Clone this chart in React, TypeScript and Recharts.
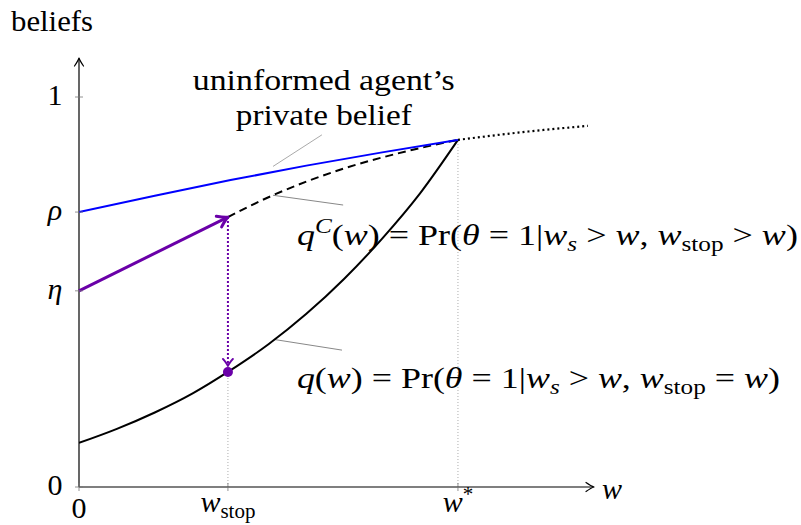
import React from "react";
import { ComposedChart, Line, XAxis, YAxis, ReferenceLine, ReferenceDot } from "recharts";

// key points on the w axis and on the belief axis
const W_STOP = 0.393;
const W_STAR = 1;
const RHO = 0.705;
const ETA = 0.503;
const Q_AT_STOP = 0.295;
const QC_AT_STOP = 0.692;
const Q_AT_STAR = 0.89;

const X_MAX = 1.359;
const Y_MAX = 1.1;

// q(w): belief when the stop happens exactly at w
const qW = [0, 0.1, 0.2, 0.3, 0.393, 0.5, 0.6, 0.7, 0.8, 0.9, 1];
const qBelief = [0.113, 0.149, 0.191, 0.24, 0.295, 0.366, 0.444, 0.534, 0.637, 0.753, 0.89];

// q^C(w): belief while no stop has happened yet
const qcW = [0.393, 0.5, 0.6, 0.7, 0.8, 0.9, 1];
const qcBelief = [0.692, 0.743, 0.783, 0.817, 0.845, 0.869, 0.89];

// uninformed agent's private belief (solid up to w*, dotted after)
const privW = [0, 0.2, 0.4, 0.6, 0.8, 1];
const privBelief = [0.705, 0.747, 0.787, 0.824, 0.858, 0.89];
const privTailW = [1, 1.171, 1.343];
const privTailBelief = [0.89, 0.91, 0.926];

type Kind = "r" | "i" | "sub" | "subi" | "sup" | "supi";
type Piece = [string, Kind];

const xTicks = [0, W_STOP, W_STAR];
const xTickLabels: Piece[][] = [
  [["0", "r"]],
  [["w", "i"], ["stop", "sub"]],
  [["w", "i"], ["*", "sup"]],
];
const yTicks = [0, ETA, RHO, 1];
const yTickLabels: Piece[][] = [[["0", "r"]], [["η", "i"]], [["ρ", "i"]], [["1", "r"]]];

const qcLabel: Piece[] = [
  ["q", "i"], ["C", "supi"], ["(", "r"], ["w", "i"], [") = Pr(", "r"], ["θ", "i"], [" = 1|", "r"],
  ["w", "i"], ["s", "subi"], [" > ", "r"], ["w", "i"], [", ", "r"], ["w", "i"], ["stop", "sub"],
  [" > ", "r"], ["w", "i"], [")", "r"],
];
const qLabel: Piece[] = [
  ["q", "i"], ["(", "r"], ["w", "i"], [") = Pr(", "r"], ["θ", "i"], [" = 1|", "r"],
  ["w", "i"], ["s", "subi"], [" > ", "r"], ["w", "i"], [", ", "r"], ["w", "i"], ["stop", "sub"],
  [" = ", "r"], ["w", "i"], [")", "r"],
];

const rows = (xs: number[], ys: number[]) => xs.map((w, i) => ({ w, v: ys[i] }));

const FONT = "'Liberation Serif', 'Times New Roman', serif";
const FS = 30;
const PURPLE = "#6a00a8";

function MathText({ x, y, pieces, anchor = "middle", size = FS, length }: any) {
  let shift = 0;
  const spans = pieces.map(([t, k]: Piece, i: number) => {
    const small = k.startsWith("su");
    const target = k.startsWith("sub") ? size * 0.2 : k.startsWith("sup") ? -size * 0.38 : 0;
    const dy = target - shift;
    shift = target;
    return (
      <tspan
        key={i}
        dy={dy}
        fontStyle={k === "i" || k === "subi" || k === "supi" ? "italic" : "normal"}
        fontSize={small ? size * 0.7 : size}
      >
        {t}
      </tspan>
    );
  });
  return (
    <text
      x={x}
      y={y}
      textAnchor={anchor}
      fontFamily={FONT}
      fontSize={size}
      fill="#000"
      style={{ whiteSpace: "pre" }}
      textLength={length}
      lengthAdjust={length ? "spacingAndGlyphs" : undefined}
    >
      {spans}
    </text>
  );
}

const headPath = (len: number, half: number) =>
  `M ${-len} ${-half} Q ${-len * 0.35} ${-half * 0.2} 0 0 Q ${-len * 0.35} ${half * 0.2} ${-len} ${half}`;

function ArrowSeg({ x1, y1, x2, y2, color = "#000", width = 1.2, dash, len = 8, half = 4.5, gap = 0, children }: any) {
  const ang = Math.atan2(y2 - y1, x2 - x1);
  const tx = x2 - Math.cos(ang) * gap;
  const ty = y2 - Math.sin(ang) * gap;
  return (
    <g>
      <line
        x1={x1}
        y1={y1}
        x2={tx - Math.cos(ang) * width * 0.6}
        y2={ty - Math.sin(ang) * width * 0.6}
        stroke={color}
        strokeWidth={width}
        strokeDasharray={dash}
      />
      <path
        d={headPath(len, half)}
        transform={`translate(${tx},${ty}) rotate(${(ang * 180) / Math.PI})`}
        fill="none"
        stroke={color}
        strokeWidth={width}
        strokeLinecap="round"
        strokeLinejoin="round"
      />
      {children}
    </g>
  );
}

const findIdx = (ticks: number[], v: number) => ticks.findIndex((t) => Math.abs(t - v) < 1e-9);

function XTick({ x, y, payload }: any) {
  const i = findIdx(xTicks, payload.value);
  if (i < 0) return <g />;
  return (
    <g>
      <line x1={x} x2={x} y1={y - 4} y2={y + 4} stroke="#777" strokeWidth={0.8} />
      <MathText x={x} y={y + (i === 0 ? 31 : 25)} pieces={xTickLabels[i]} />
    </g>
  );
}

function YTick({ x, y, payload }: any) {
  const i = findIdx(yTicks, payload.value);
  if (i < 0) return <g />;
  return (
    <g>
      <line x1={x - 4} x2={x + 4} y1={y} y2={y} stroke="#777" strokeWidth={0.8} />
      <MathText x={x - 24} y={y + 8} pieces={yTickLabels[i]} />
    </g>
  );
}

function Note({ cx, cy, lines, length }: any) {
  return (
    <g>
      {lines.map((p: Piece[], i: number) => (
        <MathText key={i} x={cx} y={cy + i * 35} pieces={p} length={length?.[i]} />
      ))}
    </g>
  );
}

export default function App() {
  return (
    <div style={{ position: "absolute", left: 0, top: 0, width: 801, height: 525, background: "#fff" }}>
      <ComposedChart width={801} height={525} margin={{ top: 58, right: 207, bottom: 0, left: 0 }}>
        <XAxis
          type="number"
          dataKey="w"
          domain={[0, X_MAX]}
          ticks={xTicks}
          interval={0}
          height={38}
          tickSize={0}
          tickMargin={0}
          axisLine={false}
          tick={(p: any) => <XTick {...p} />}
          allowDataOverflow
        />
        <YAxis
          type="number"
          domain={[0, Y_MAX]}
          ticks={yTicks}
          interval={0}
          width={79}
          tickSize={0}
          tickMargin={0}
          axisLine={false}
          tick={(p: any) => <YTick {...p} />}
          allowDataOverflow
        />

        {/* guide lines down to the axis */}
        <ReferenceLine
          segment={[{ x: W_STOP, y: 0 }, { x: W_STOP, y: Q_AT_STOP }]}
          stroke="#999"
          strokeWidth={0.8}
          strokeDasharray="1 2"
          ifOverflow="visible"
        />
        <ReferenceLine
          segment={[{ x: W_STAR, y: 0 }, { x: W_STAR, y: Q_AT_STAR }]}
          stroke="#999"
          strokeWidth={0.8}
          strokeDasharray="1 2"
          ifOverflow="visible"
        />

        {/* axes with arrow tips */}
        <ReferenceLine
          segment={[{ x: 0, y: 0 }, { x: X_MAX, y: 0 }]}
          ifOverflow="visible"
          shape={(p: any) => (
            <ArrowSeg {...p}>
              <MathText x={p.x2 + 18} y={p.y2 + 12} pieces={[["w", "i"]]} />
            </ArrowSeg>
          )}
        />
        <ReferenceLine
          segment={[{ x: 0, y: 0 }, { x: 0, y: Y_MAX }]}
          ifOverflow="visible"
          shape={(p: any) => (
            <ArrowSeg {...p}>
              <MathText x={p.x2 - 27} y={p.y2 - 27} pieces={[["beliefs", "r"]]} length={82} />
            </ArrowSeg>
          )}
        />

        {/* leader lines for the annotations */}
        <ReferenceLine
          segment={[{ x: 0.512, y: 0.822 }, { x: 0.641, y: 0.903 }]}
          stroke="#aaa"
          strokeWidth={1}
          ifOverflow="visible"
        />
        <ReferenceLine
          segment={[{ x: 0.512, y: 0.748 }, { x: 0.697, y: 0.723 }]}
          stroke="#888"
          strokeWidth={1}
          ifOverflow="visible"
        />
        <ReferenceLine
          segment={[{ x: 0.517, y: 0.378 }, { x: 0.694, y: 0.351 }]}
          stroke="#888"
          strokeWidth={1}
          ifOverflow="visible"
        />

        <Line
          data={rows(qW, qBelief)}
          dataKey="v"
          type="monotone"
          stroke="#000"
          strokeWidth={2}
          dot={false}
          isAnimationActive={false}
        />
        <Line
          data={rows(qcW, qcBelief)}
          dataKey="v"
          type="monotone"
          stroke="#000"
          strokeWidth={2}
          strokeDasharray="8 5"
          dot={false}
          isAnimationActive={false}
        />
        <Line
          data={rows(privTailW, privTailBelief)}
          dataKey="v"
          type="monotone"
          stroke="#000"
          strokeWidth={2.2}
          strokeDasharray="2 3"
          dot={false}
          isAnimationActive={false}
        />
        <Line
          data={rows(privW, privBelief)}
          dataKey="v"
          type="monotone"
          stroke="#0000ff"
          strokeWidth={2}
          dot={false}
          isAnimationActive={false}
        />

        {/* belief path of the agent: rises along q^C, drops to q at the stop */}
        <ReferenceLine
          segment={[{ x: 0, y: ETA }, { x: W_STOP, y: QC_AT_STOP }]}
          ifOverflow="visible"
          shape={(p: any) => <ArrowSeg {...p} color={PURPLE} width={3} len={10} half={6} />}
        />
        <ReferenceLine
          segment={[{ x: W_STOP, y: QC_AT_STOP }, { x: W_STOP, y: Q_AT_STOP }]}
          ifOverflow="visible"
          shape={(p: any) => (
            <ArrowSeg {...p} color={PURPLE} width={2} dash="2 2" len={7} half={5} gap={6} />
          )}
        />
        <ReferenceDot x={W_STOP} y={Q_AT_STOP} r={5} fill={PURPLE} stroke="none" ifOverflow="visible" />

        {/* annotations */}
        <ReferenceDot
          x={0.646}
          y={1.018}
          ifOverflow="visible"
          shape={(p: any) => (
            <Note
              cx={p.cx}
              cy={p.cy}
              lines={[[["uninformed agent’s", "r"]], [["private belief", "r"]]]}
              length={[262, 176]}
            />
          )}
        />
        <ReferenceDot
          x={0.575}
          y={0.621}
          ifOverflow="visible"
          shape={(p: any) => <MathText x={p.cx} y={p.cy} pieces={qcLabel} anchor="start" length={501} />}
        />
        <ReferenceDot
          x={0.575}
          y={0.254}
          ifOverflow="visible"
          shape={(p: any) => <MathText x={p.cx} y={p.cy} pieces={qLabel} anchor="start" length={483} />}
        />
      </ComposedChart>
    </div>
  );
}
